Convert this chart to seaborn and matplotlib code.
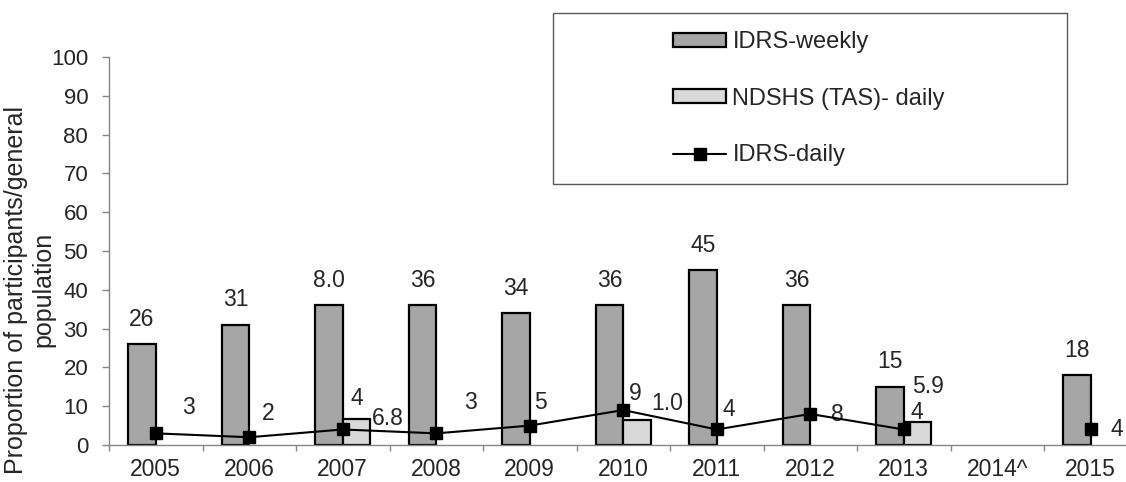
import numpy as np
import pandas as pd
import matplotlib
matplotlib.use("Agg")
import matplotlib.pyplot as plt
import seaborn as sns
from matplotlib.patches import Patch, Rectangle
from matplotlib.lines import Line2D
from matplotlib.ticker import FixedLocator

# --- data ---
years = ["2005", "2006", "2007", "2008", "2009", "2010", "2011", "2012", "2013", "2014^", "2015"]
idrs_weekly = [26, 31, 36, 36, 34, 36, 45, 36, 15, np.nan, 18]
ndshs_daily = [np.nan, np.nan, 6.8, np.nan, np.nan, 6.5, np.nan, np.nan, 5.9, np.nan, np.nan]
idrs_daily = [3, 2, 4, 3, 5, 9, 4, 8, 4, np.nan, 4]

# labels as printed on the original (a couple don't match their bar)
weekly_labels = ["26", "31", "8.0", "36", "34", "36", "45", "36", "15", "", "18"]
ndshs_labels = ["", "", "6.8", "", "", "1.0", "", "", "5.9", "", ""]
daily_labels = ["3", "2", "4", "3", "5", "9", "4", "8", "4", "", "4"]

series_names = ["IDRS-weekly", "NDSHS (TAS)- daily", "IDRS-daily"]
bar_colors = ["#A6A6A6", "#D9D9D9"]

# hand placed label offsets (pixels) like in the original
daily_offsets = [(33, 26), (19, 24), (14, 31), (34, 31), (11, 23), (12, 17),
                 (12, 20), (27, -1), (13, 17), (0, 0), (26, 0)]
ndshs_offsets = [(0, 0), (0, 0), (31, 0), (0, 0), (0, 0), (30, 16),
                 (0, 0), (0, 0), (10, 36), (0, 0), (0, 0)]

sns.set_style("ticks")
plt.rcParams["font.family"] = ["Liberation Sans", "DejaVu Sans"]
plt.rcParams["font.size"] = 16.5

grey = "#868686"
bar_w = 0.59

fig = plt.figure(figsize=(11.26, 4.82), dpi=100)
ax = fig.add_axes([109 / 1126, 37 / 482, 1028.5 / 1126, 388 / 482])

bars = pd.DataFrame({
    "year": years * 2,
    "series": [series_names[0]] * len(years) + [series_names[1]] * len(years),
    "value": idrs_weekly + ndshs_daily,
}).dropna()

sns.barplot(data=bars, x="year", y="value", hue="series", order=years,
            hue_order=series_names[:2], palette=bar_colors, saturation=1,
            width=bar_w, dodge=True, edgecolor="black", linewidth=1.6,
            errorbar=None, legend=False, ax=ax, zorder=2)

xpos = np.arange(len(years))
ax.plot(xpos, idrs_daily, color="black", lw=1.5, marker="s", ms=8.5, zorder=5)

# --- data labels ---
for i, (v, t) in enumerate(zip(idrs_weekly, weekly_labels)):
    if t:
        ax.annotate(t, (i - bar_w / 4, v), xytext=(0, 25), textcoords="offset pixels",
                    ha="center", va="center")
for i, (v, t) in enumerate(zip(ndshs_daily, ndshs_labels)):
    if t:
        ax.annotate(t, (i + bar_w / 4, v), xytext=ndshs_offsets[i], textcoords="offset pixels",
                    ha="center", va="center")
for i, (v, t) in enumerate(zip(idrs_daily, daily_labels)):
    if t:
        ax.annotate(t, (i, v), xytext=daily_offsets[i], textcoords="offset pixels",
                    ha="center", va="center", annotation_clip=False)

# --- axes styling ---
ax.set_ylim(0, 100)
ax.set_yticks(range(0, 101, 10))
ax.set_xlim(-0.5, len(years) - 0.5)
ax.xaxis.set_minor_locator(FixedLocator(np.arange(-0.5, len(years), 1)))
ax.tick_params(axis="x", which="major", length=0, pad=9.5, labelsize=16.5)
ax.tick_params(axis="x", which="minor", length=4, width=1, color=grey, direction="out")
ax.tick_params(axis="y", length=5, width=1, color=grey, pad=10, labelsize=16)
for s in ["top", "right"]:
    ax.spines[s].set_visible(False)
for s in ["left", "bottom"]:
    ax.spines[s].set_color(grey)
    ax.spines[s].set_linewidth(1)
ax.set_xlabel("")
ax.set_ylabel("Proportion of participants/general\npopulation", fontsize=18, linespacing=1.15)
ax.yaxis.set_label_coords(-0.0525, 0.40)

# --- legend: entries plus a separate box like the excel one ---
handles = [
    Patch(facecolor=bar_colors[0], edgecolor="black", linewidth=1.6),
    Patch(facecolor=bar_colors[1], edgecolor="black", linewidth=1.6),
    Line2D([], [], color="black", lw=1.5, marker="s", ms=8.5),
]
fig.legend(handles, series_names, loc="upper left", bbox_to_anchor=(673 / 1126, 1 - 31 / 482),
           frameon=False, fontsize=17, borderpad=0, borderaxespad=0, handlelength=2.25,
           handleheight=0.52, handletextpad=0.27, labelspacing=1.47)
fig.add_artist(Rectangle((553 / 1126, 1 - 184 / 482), 514 / 1126, 171 / 482,
                         transform=fig.transFigure, fill=False, edgecolor="#595959", lw=1))

fig.savefig("out.png", dpi=100)
